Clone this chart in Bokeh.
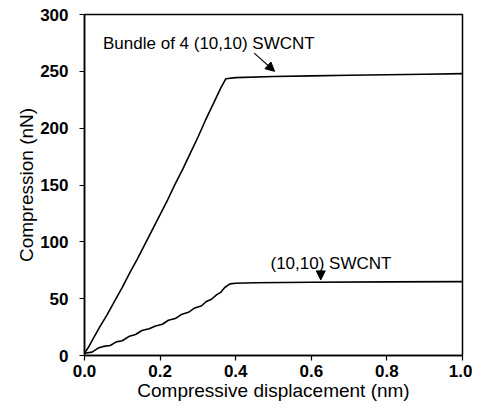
from bokeh.plotting import figure
from bokeh.models import Arrow, NormalHead, Label, Range1d, FixedTicker
from bokeh.embed import file_html
from bokeh.resources import INLINE

# Bundle of 4 (10,10) SWCNT
bundle_x = [0.0, 0.01, 0.02, 0.04, 0.06, 0.08, 0.10, 0.12, 0.14, 0.16, 0.18, 0.20,
            0.22, 0.24, 0.26, 0.28, 0.30, 0.32, 0.34, 0.36, 0.374, 0.40, 0.50,
            0.60, 0.70, 0.80, 0.90, 1.00]
bundle_y = [2, 7, 13, 25, 36, 48, 60, 73, 85, 98, 111, 124,
            137, 151, 164, 178, 192, 207, 221, 235, 243.5, 244.5, 245.5,
            246, 246.5, 247, 247.5, 248]

# single (10,10) SWCNT
single_x = [0.0, 0.02, 0.036, 0.05, 0.068, 0.084, 0.10, 0.119, 0.135, 0.152,
            0.171, 0.188, 0.206, 0.222, 0.24, 0.256, 0.275, 0.29, 0.31, 0.322,
            0.336, 0.35, 0.36, 0.371, 0.385, 0.40, 0.45, 0.60, 0.80, 1.00]
single_y = [2, 3, 6.5, 8, 8.8, 12, 13, 17, 18.5, 22, 23.5, 26, 27.5, 31, 32.5,
            36, 38, 41.5, 43.8, 47.5, 49.5, 53.5, 55.5, 59.8, 63, 63.5, 64,
            64.5, 64.8, 65]

x_ticks = [0.0, 0.2, 0.4, 0.6, 0.8, 1.0]
y_ticks = [0, 50, 100, 150, 200, 250, 300]

FONT = "Liberation Sans"

p = figure(width=472, height=403, output_backend="svg", toolbar_location=None,
           x_range=Range1d(0, 1.0), y_range=Range1d(0, 300),
           min_border_left=84, min_border_right=10, min_border_top=14,
           min_border_bottom=47)

p.grid.visible = False
p.outline_line_color = "black"
p.outline_line_width = 1.5
p.background_fill_color = "white"
p.border_fill_color = "white"

p.xaxis.ticker = FixedTicker(ticks=x_ticks)
p.yaxis.ticker = FixedTicker(ticks=y_ticks)
p.xaxis.major_label_overrides = {t: f"{t:.1f}" for t in x_ticks}
for ax in (p.xaxis, p.yaxis):
    ax.minor_tick_line_color = None
    ax.major_tick_in = 0
    ax.major_tick_out = 5
    ax.axis_line_width = 1.5
    ax.major_tick_line_width = 1.2
    ax.axis_line_color = "black"
    ax.major_label_text_font = FONT
    ax.major_label_text_font_size = "17px"
    ax.major_label_text_font_style = "bold"
    ax.major_label_text_color = "black"
    ax.axis_label_text_font = FONT
    ax.axis_label_text_font_size = "19px"
    ax.axis_label_text_font_style = "normal"
    ax.axis_label_text_color = "black"

p.xaxis.axis_label = "Compressive displacement (nm)"
p.yaxis.axis_label = "Compression (nN)"
p.xaxis.major_label_standoff = 4
p.xaxis.axis_label_standoff = 0
p.yaxis.major_label_standoff = 11
p.yaxis.axis_label_standoff = 0

p.line(bundle_x, bundle_y, line_color="black", line_width=1.6)
p.line(single_x, single_y, line_color="black", line_width=1.6)

p.add_layout(Label(x=0.049, y=274.4, text="Bundle of 4 (10,10) SWCNT",
                   text_font=FONT, text_font_size="17px", text_color="black",
                   text_baseline="middle", text_align="left"))
p.add_layout(Label(x=0.652, y=80.7, text="(10,10) SWCNT",
                   text_font=FONT, text_font_size="17px", text_color="black",
                   text_baseline="middle", text_align="center"))

p.add_layout(Arrow(end=NormalHead(size=9, fill_color="black", line_color="black"),
                   x_start=0.449, y_start=266, x_end=0.503, y_end=250,
                   line_color="black", line_width=1.2))
p.add_layout(Arrow(end=NormalHead(size=9, fill_color="black", line_color="black"),
                   x_start=0.625, y_start=73, x_end=0.625, y_end=66.5,
                   line_color="black", line_width=1.2))

open("out.html", "w").write(file_html(p, INLINE))
